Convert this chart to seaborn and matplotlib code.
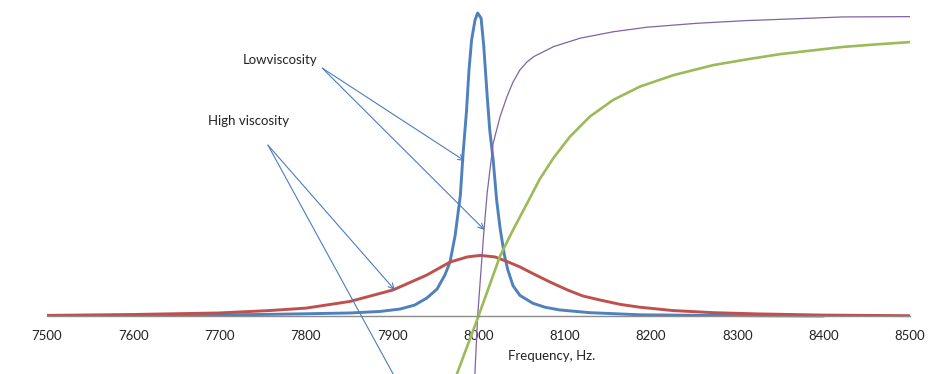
import matplotlib
matplotlib.use("Agg")
import matplotlib.pyplot as plt
import seaborn as sns

# resonance amplitude, low viscosity (blue), relative units
low_freq = [7600, 7677, 7747, 7793, 7851, 7886, 7909, 7926, 7940, 7952, 7961, 7967,
            7973, 7979, 7982, 7986, 7989, 7992, 7996, 7999, 8003, 8006, 8010, 8013,
            8017, 8021, 8025, 8030, 8034, 8040, 8048, 8063, 8077, 8094, 8129, 8187,
            8257, 8400]
low_amp = [0.002, 0.003, 0.005, 0.007, 0.010, 0.015, 0.023, 0.036, 0.059, 0.089, 0.135, 0.178,
           0.267, 0.399, 0.531, 0.673, 0.812, 0.911, 0.977, 1.000, 0.983, 0.894, 0.729, 0.614,
           0.515, 0.383, 0.290, 0.201, 0.152, 0.100, 0.068, 0.042, 0.029, 0.020, 0.011, 0.004,
           0.002, 0.000]

# resonance amplitude, high viscosity (red)
high_freq = [7500, 7600, 7699, 7758, 7800, 7851, 7901, 7940, 7967, 7987, 8002, 8019,
             8033, 8048, 8063, 8083, 8103, 8121, 8142, 8165, 8187, 8225, 8272, 8323,
             8399, 8500]
high_amp = [0.002, 0.005, 0.010, 0.018, 0.026, 0.048, 0.086, 0.135, 0.178, 0.195, 0.200, 0.195,
            0.180, 0.162, 0.140, 0.112, 0.086, 0.066, 0.052, 0.038, 0.029, 0.018, 0.011, 0.007,
            0.003, 0.001]

# phase, low viscosity (purple)
low_phase_freq = [7500, 7994, 7999, 8006, 8010, 8017, 8025, 8033, 8040, 8048, 8056, 8064,
                  8087, 8118, 8156, 8195, 8253, 8311, 8349, 8422, 8500]
low_phase = [-0.99, -0.30, 0.0, 0.27, 0.405, 0.570, 0.658, 0.724, 0.772, 0.812, 0.838, 0.856,
             0.889, 0.917, 0.938, 0.953, 0.966, 0.975, 0.979, 0.987, 0.988]

# phase, high viscosity (green)
high_phase_freq = [7500, 7955, 7975, 8000, 8025, 8040, 8056, 8071, 8087, 8106, 8129, 8156,
                   8187, 8226, 8272, 8311, 8349, 8422, 8459, 8500]
high_phase = [-0.90, -0.34, -0.191, 0.0, 0.198, 0.284, 0.370, 0.452, 0.522, 0.592, 0.658, 0.713,
              0.757, 0.795, 0.828, 0.847, 0.864, 0.888, 0.896, 0.904]

x_ticks = [7500, 7600, 7700, 7800, 7900, 8000, 8100, 8200, 8300, 8400, 8500]

sns.set_style("white")
plt.rcParams['font.family'] = ['Lato', 'DejaVu Sans']

fig = plt.figure(figsize=(9.38, 3.74), dpi=100)
ax = fig.add_axes([47 / 938, 0.0, 863 / 938, 1.0])
ax.patch.set_alpha(0)

sns.lineplot(x=low_freq, y=low_amp, ax=ax, color='#4F81BD', lw=2.1)
sns.lineplot(x=high_freq, y=high_amp, ax=ax, color='#C0504D', lw=2.1)
sns.lineplot(x=low_phase_freq, y=low_phase, ax=ax, color='#8064A2', lw=0.9)
sns.lineplot(x=high_phase_freq, y=high_phase, ax=ax, color='#9BBB59', lw=1.9)

ax.set_xlim(7500, 8500)
ax.set_ylim(-0.1914, 1.0429)
ax.set_xticks(x_ticks)
ax.set_xticklabels([str(t) for t in x_ticks])
ax.set_yticks([])

for s in ['left', 'right', 'top']:
    ax.spines[s].set_visible(False)
ax.spines['bottom'].set_position(('data', 0))
ax.spines['bottom'].set_color('#8c8c8c')
ax.spines['bottom'].set_linewidth(1.0)
ax.tick_params(axis='x', direction='out', length=4, width=0.8, color='#8c8c8c',
               labelsize=9.5, labelcolor='#222222', pad=6)

ax.text(8085, -0.132, 'Frequency, Hz.', fontsize=9.5, color='#222222', ha='center', va='center')

arrow = dict(arrowstyle='->', color='#4A7EBB', lw=0.8, shrinkA=0, shrinkB=0)
ax.text(7813, 0.846, 'Lowviscosity', fontsize=9.5, color='#222222', ha='right', va='center')
ax.annotate('', xy=(7984, 0.512), xytext=(7819, 0.818), arrowprops=arrow)
ax.annotate('', xy=(8007, 0.284), xytext=(7819, 0.818), arrowprops=arrow)

ax.text(7780, 0.643, 'High viscosity', fontsize=9.5, color='#222222', ha='right', va='center')
ax.annotate('', xy=(7903, 0.086), xytext=(7756, 0.564), arrowprops=arrow)
ax.annotate('', xy=(7915, -0.264), xytext=(7756, 0.564), arrowprops=arrow,
            annotation_clip=False)

fig.savefig('out.png', dpi=100)
